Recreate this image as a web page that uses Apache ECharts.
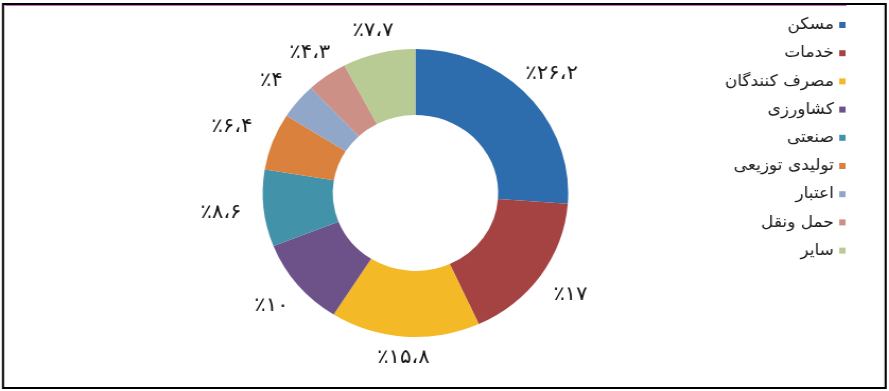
<!DOCTYPE html>
<html>
<head>
<meta charset="utf-8">
<script src="https://cdn.jsdelivr.net/npm/echarts@6/dist/echarts.min.js"></script>
<style>
html,body{margin:0;padding:0;background:#fff;overflow:hidden;}
#c{width:838px;height:391px;transform:scaleX(1.0609);transform-origin:0 0;}
</style>
</head>
<body>
<div id="c"></div>
<script>
// Data
const categories = ['مسکن', 'خدمات', 'مصرف کنندگان', 'کشاورزی', 'صنعتی', 'تولیدی توزیعی', 'اعتبار', 'حمل ونقل', 'سایر'];
const shares = [26.2, 17, 15.8, 10, 8.6, 6.4, 4, 4.3, 7.7];
const colors = ['#2E6DAD', '#A54343', '#F3B927', '#6D528A', '#4293A9', '#D9813D', '#91A7CA', '#CC9087', '#B8CB94'];

const CX = 391.6, CY = 193, R_OUT = 144, R_IN = 78;
const FA = '۰۱۲۳۴۵۶۷۸۹';
function toFa(v) {
  return '٪' + String(v).replace('.', '،').replace(/\d/g, d => FA[+d]);
}
const total = shares.reduce((a, b) => a + b, 0);
const midAngles = [];
{ let c = 0; shares.forEach(v => { midAngles.push((c + v / 2) / total * Math.PI * 2); c += v; }); }

const pieData = categories.map((n, i) => ({ name: n, value: shares[i], itemStyle: { color: colors[i] } }));
const labelData = categories.map((n, i) => ({ name: n, value: shares[i] }));

const chart = echarts.init(document.getElementById('c'), null, { renderer: 'canvas' });
chart.setOption({
  animation: false,
  backgroundColor: '#fff',
  legend: {
    orient: 'vertical',
    right: 36,
    top: 11,
    align: 'right',
    data: categories,
    icon: 'rect',
    itemWidth: 6,
    itemHeight: 6,
    itemGap: 10.2,
    selectedMode: false,
    textStyle: { fontFamily: 'DejaVu Sans', fontSize: 16, color: '#1a1a1a', lineHeight: 18 }
  },
  graphic: [
    { type: 'rect', shape: { x: 2.8, y: 4, width: 832, height: 384 }, style: { fill: 'none', stroke: '#000', lineWidth: 2 }, silent: true, z: 10 },
    { type: 'line', shape: { x1: 4.7, y1: 5.5, x2: 798, y2: 5.5 }, style: { stroke: '#C864C8', lineWidth: 1 }, silent: true, z: 11 }
  ],
  series: [
    {
      type: 'pie',
      center: [CX, CY],
      radius: [R_IN, R_OUT],
      startAngle: 90,
      clockwise: true,
      silent: true,
      label: { show: false },
      labelLine: { show: false },
      itemStyle: { borderWidth: 0 },
      data: pieData
    },
    {
      type: 'pie',
      center: [CX, CY],
      radius: [R_OUT - 1, R_OUT + 1],
      startAngle: 90,
      clockwise: true,
      silent: true,
      legendHoverLink: false,
      avoidLabelOverlap: false,
      itemStyle: { color: 'rgba(0,0,0,0)', borderWidth: 0 },
      label: {
        show: true,
        position: 'inside',
        formatter: p => toFa(p.value),
        fontFamily: 'DejaVu Sans',
        fontSize: 20,
        color: '#111',
        textBorderWidth: 0
      },
      labelLine: { show: false },
      labelLayout: function (params) {
        const r = params.labelRect;
        const a = midAngles[params.dataIndex];
        const ux = Math.sin(a), uy = -Math.cos(a);
        const h = 17;
        const ext = Math.min(
          Math.abs(ux) > 1e-6 ? (r.width / 2) / Math.abs(ux) : 1e9,
          Math.abs(uy) > 1e-6 ? (h / 2) / Math.abs(uy) : 1e9
        );
        const gap = 12 + 9 * Math.abs(ux);
        const d = R_OUT + ext + gap;
        return { x: CX + ux * d, y: CY + uy * d, align: 'center', verticalAlign: 'middle' };
      },
      data: labelData
    }
  ]
});
</script>
</body>
</html>
